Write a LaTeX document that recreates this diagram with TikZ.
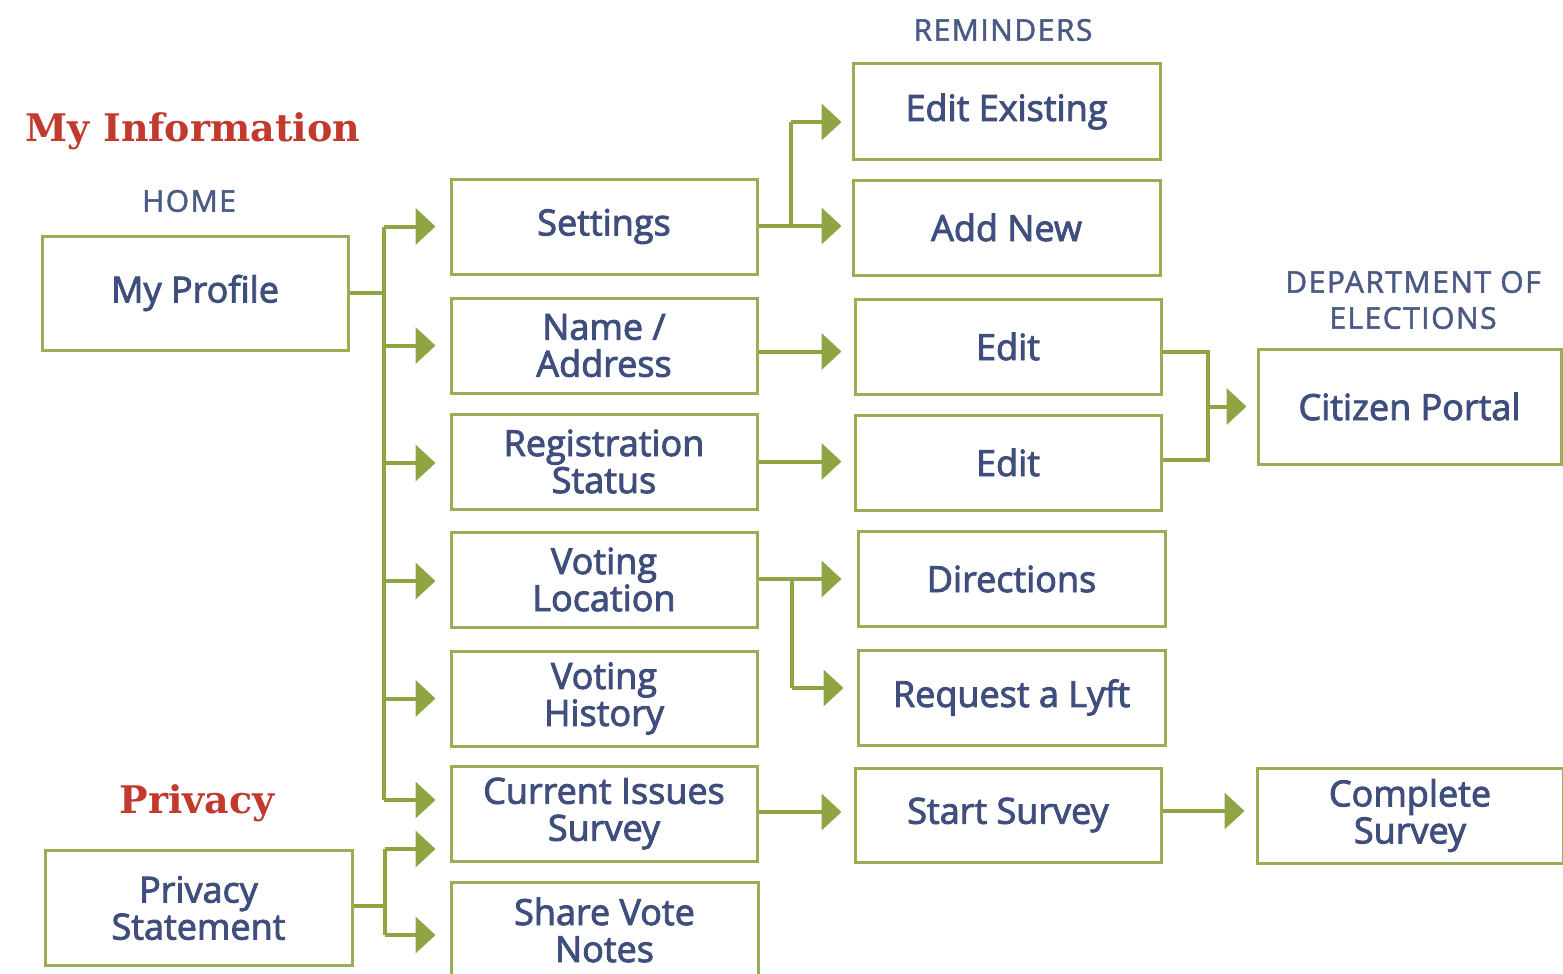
\documentclass[tikz,border=0pt]{standalone}
\usepackage{fontspec}
\setmainfont{Open Sans}
\newfontfamily\slab{DejaVu Serif}
\newfontfamily\capsfont{Open Sans}[LetterSpace=5]
\usetikzlibrary{arrows.meta,calc}
\definecolor{txtblue}{HTML}{3F4E7D}
\definecolor{lblblue}{HTML}{4A5A84}
\definecolor{olive}{HTML}{8FA543}
\definecolor{boxolive}{HTML}{9AAE55}
\definecolor{titlered}{HTML}{C23A2E}
\newcommand\heavytxt[1]{\special{pdf:literal direct 2 Tr #1 w}}
\newcommand\normaltxt{\special{pdf:literal direct 0 Tr}}
\begin{document}
\begin{tikzpicture}[x=1pt,y=-1pt,
  box/.style={draw=boxolive,line width=3pt,inner sep=0pt,minimum width=306pt,minimum height=95pt,
    align=center,text=txtblue,font=\fontsize{36}{37}\selectfont\heavytxt{0.9}},
  lbl/.style={text=lblblue,align=center,font=\capsfont\fontsize{30}{36}\selectfont\heavytxt{0.5}},
  ttl/.style={text=titlered,font=\slab\bfseries\fontsize{38}{40}\selectfont\normaltxt},
  conn/.style={draw=olive,line width=4pt},
  arr/.style={conn,-{Triangle[length=20pt,width=36pt]}}]
\useasboundingbox (0,0) rectangle (1563,974);
\fill[white] (0,0) rectangle (1563,974);

% titles and labels
\node[ttl] (tinfo) at (193,131) {My Information};
\node[ttl] (tpriv) at (197,803) {Privacy};
\node[lbl] (lhome) at (189,201) {HOME};
\node[lbl] (lrem) at (1003,30) {REMINDERS};
\node[lbl] (ldept) at (1413,300) {DEPARTMENT OF\\ELECTIONS};

% boxes
\node[box,minimum height=114pt] (profile) at (195,293) {My Profile};
\node[box] (settings) at (604,226.5) {Settings};
\node[box] (name) at (604,345.5) {Name /\\Address};
\node[box] (reg) at (604,461.5) {Registration\\Status};
\node[box] (vloc) at (604,579.5) {Voting\\Location};
\node[box] (vhist) at (604,698.5) {Voting\\History};
\node[box] (cis) at (604,813.5) {Current Issues\\Survey};
\node[box,minimum width=307pt,minimum height=96pt] (svn) at (604.5,930) {Share Vote\\Notes};
\node[box,minimum width=307pt] (editex) at (1006.5,111.5) {Edit Existing};
\node[box,minimum width=307pt] (addnew) at (1006.5,227.5) {Add New};
\node[box] (edit1) at (1008,346.5) {Edit};
\node[box] (edit2) at (1008,462.5) {Edit};
\node[box,minimum width=307pt] (dirs) at (1011.5,579) {Directions};
\node[box,minimum width=307pt] (lyft) at (1011.5,697.5) {Request a Lyft};
\node[box,minimum height=94pt] (start) at (1008,815) {Start Survey};
\node[box,minimum width=303pt,minimum height=115pt] (portal) at (1409.5,406.5) {Citizen Portal};
\node[box] (complete) at (1410,815.5) {Complete\\Survey};
\node[box,minimum width=307pt,minimum height=115pt] (privacy) at (198.5,908) {Privacy\\Statement};

% profile tree
\coordinate (pA) at ($(profile.east)+(34,0)$);
\coordinate (t1) at ($(settings.west)+(-14,0)$);
\coordinate (t2) at ($(name.west)+(-14,0)$);
\coordinate (t3) at ($(reg.west)+(-14,1.5)$);
\coordinate (t4) at ($(vloc.west)+(-14,1.5)$);
\coordinate (t5) at ($(vhist.west)+(-14,0)$);
\coordinate (t6) at ($(cis.west)+(-14,-13.5)$);
\draw[conn] (profile.east) -- (pA);
\draw[conn] (pA |- t1) -- (pA |- t6);
\foreach \t in {t1,t2,t3,t4,t5,t6} \draw[arr] (pA |- \t) -- (\t);

% privacy tree
\coordinate (pB) at ($(privacy.east)+(31,-2)$);
\coordinate (u1) at ($(cis.west)+(-14,35.5)$);
\coordinate (u2) at ($(svn.west)+(-14,5)$);
\draw[conn] ($(privacy.east)+(0,-2)$) -- (pB);
\draw[conn] (pB |- u1) -- (pB |- u2);
\draw[arr] (pB |- u1) -- (u1);
\draw[arr] (pB |- u2) -- (u2);

% settings -> reminders
\coordinate (s1) at ($(addnew.west)+(-10,-1.5)$);
\coordinate (s2) at ($(editex.west)+(-10,10.5)$);
\coordinate (sB) at ($(settings.east)+(32,0)$);
\draw[arr] (settings.east |- s1) -- (s1);
\draw[conn] (sB |- s1) -- (sB |- s2);
\draw[arr] (sB |- s2) -- (s2);

% name, reg -> edit
\coordinate (e1) at ($(edit1.west)+(-12,5)$);
\coordinate (e2) at ($(edit2.west)+(-12,-1)$);
\draw[arr] (name.east |- e1) -- (e1);
\draw[arr] (reg.east |- e2) -- (e2);

% voting location -> directions, lyft
\coordinate (d1) at ($(dirs.west)+(-15,0)$);
\coordinate (d2) at ($(lyft.west)+(-13,-9.5)$);
\coordinate (vB) at ($(vloc.east)+(33,0)$);
\draw[arr] (vloc.east |- d1) -- (d1);
\draw[conn] (vB |- d1) -- (vB |- d2);
\draw[arr] (vB |- d2) -- (d2);

% survey
\coordinate (c1) at ($(start.west)+(-12,-3)$);
\draw[arr] (cis.east |- c1) -- (c1);
\coordinate (c2) at ($(complete.west)+(-11,-4.5)$);
\draw[arr] (start.east |- c2) -- (c2);

% edits -> portal
\coordinate (eA) at ($(edit1.east)+(45,5.5)$);
\coordinate (eB) at ($(edit2.east)+(45,-2.5)$);
\coordinate (p1) at ($(portal.west)+(-10,0)$);
\draw[conn] ($(edit1.east)+(0,5.5)$) -- (eA) -- (eB) -- ($(edit2.east)+(0,-2.5)$);
\draw[arr] (eA |- p1) -- (p1);
\end{tikzpicture}
\end{document}
